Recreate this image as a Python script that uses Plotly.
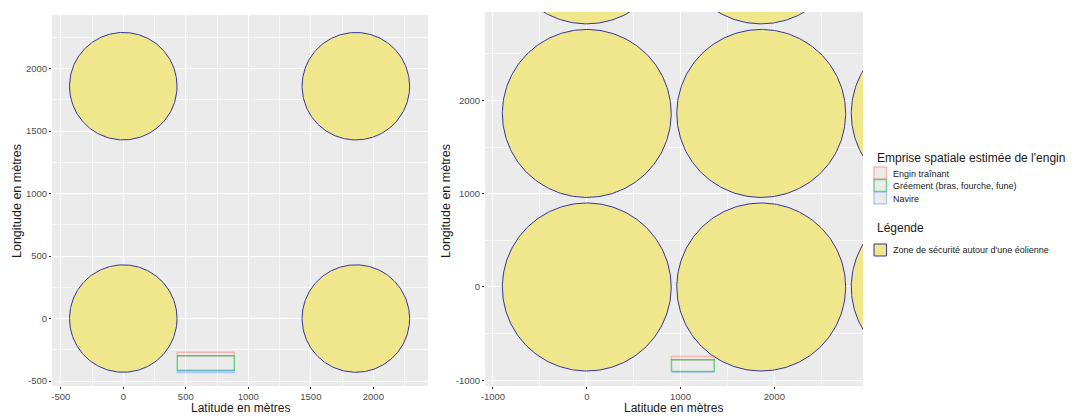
import numpy as np
import plotly.graph_objects as go

# ---------------- data ----------------
turbine_x = [0, 1860, 3720]
turbine_y = [0, 1860, 3720]
radius_left = 430
radius_right = 900

gear_names = ["Engin traînant", "Gréement (bras, fourche, fune)", "Navire"]
gear_colors = ["rgba(248,118,109,0.45)", "rgba(0,186,56,0.55)", "rgba(97,156,255,0.45)"]

# rectangles (x0, x1, y0, y1) per panel
left_x0 = [432, 432, 432]
left_x1 = [888, 888, 888]
left_y0 = [-298, -416, -432]
left_y1 = [-270, -298, -416]

right_x0 = [903, 903, 903]
right_x1 = [1359, 1359, 1359]
right_y0 = [-779, -905, -912]
right_y1 = [-744, -779, -905]

left_xticks = [-500, 0, 500, 1000, 1500, 2000]
left_yticks = [-500, 0, 500, 1000, 1500, 2000]
left_minor = [-250, 250, 750, 1250, 1750, 2250]
right_xticks = [-1000, 0, 1000, 2000]
right_yticks = [-1000, 0, 1000, 2000]
right_minor = [-500, 500, 1500, 2500]

zone_name = "Zone de sécurité autour d'une éolienne"
gear_title = "Emprise spatiale estimée de l'engin"
zone_title = "Légende"
x_title = "Latitude en mètres"
y_title = "Longitude en mètres"

FONT = "Liberation Sans"
W, H = 1080, 416

fig = go.Figure()


def circles(r):
    t = np.linspace(0, 2 * np.pi, 241)
    xs, ys = [], []
    for cx in turbine_x:
        for cy in turbine_y:
            xs += list(cx + r * np.cos(t)) + [None]
            ys += list(cy + r * np.sin(t)) + [None]
    return xs, ys


for r, xa, ya in [(radius_left, "x", "y"), (radius_right, "x2", "y2")]:
    cx, cy = circles(r)
    fig.add_trace(go.Scatter(
        x=cx, y=cy, mode="lines", fill="toself",
        fillcolor="#F0E68C", line=dict(color="#34349A", width=1),
        name=zone_name, showlegend=False,
        xaxis=xa, yaxis=ya, hoverinfo="skip"))

for X0, X1, Y0, Y1, xa, ya in [
        (left_x0, left_x1, left_y0, left_y1, "x", "y"),
        (right_x0, right_x1, right_y0, right_y1, "x2", "y2")]:
    for i in range(3):
        fig.add_trace(go.Scatter(
            x=[X0[i], X1[i], X1[i], X0[i], X0[i]],
            y=[Y0[i], Y0[i], Y1[i], Y1[i], Y0[i]],
            mode="lines", line=dict(color=gear_colors[i], width=1.5),
            name=gear_names[i], showlegend=False,
            xaxis=xa, yaxis=ya, hoverinfo="skip"))


def ax(domain, rng, ticks, minor, anchor):
    return dict(
        domain=domain, range=rng, anchor=anchor, automargin=False,
        tickvals=ticks, ticktext=[str(v) for v in ticks],
        showgrid=True, gridcolor="white", gridwidth=1.1,
        minor=dict(tickvals=minor, showgrid=True, gridcolor="rgba(255,255,255,0.6)",
                   gridwidth=0.5, ticks=""),
        zeroline=False, ticks="outside", ticklen=2, tickcolor="#333333", tickwidth=1,
        tickfont=dict(size=9.5, color="#4D4D4D", family=FONT),
        showline=False, fixedrange=True,
    )


def py(p):
    return 1 - p / H


def px(p):
    return p / W


fig.update_layout(
    width=W, height=H,
    margin=dict(l=0, r=0, t=0, b=0),
    paper_bgcolor="white", plot_bgcolor="#EBEBEB",
    font=dict(family=FONT, color="#1A1A1A"),
    showlegend=False,
    xaxis=ax([px(52), px(428)], [-570, 2437], left_xticks, left_minor, "y"),
    yaxis=ax([py(386), py(15)], [-540, 2430], left_yticks, left_minor, "x"),
    xaxis2=ax([px(485), px(863)], [-1085, 2945], right_xticks, right_minor, "y2"),
    yaxis2=ax([py(386), py(12)], [-1061, 2947], right_yticks, right_minor, "x2"),
)

annotations = []
# axis titles
for xc in [240, 673]:
    annotations.append(dict(text=x_title, x=px(xc), y=py(416), xref="paper", yref="paper",
                            showarrow=False, xanchor="center", yanchor="bottom", borderpad=0,
                            font=dict(size=12, color="#1A1A1A", family=FONT)))
for xc in [17, 446]:
    annotations.append(dict(text=y_title, x=px(xc), y=py(201), xref="paper", yref="paper",
                            showarrow=False, xanchor="center", yanchor="middle", textangle=-90,
                            font=dict(size=12.5, color="#1A1A1A", family=FONT)))

# manual legend
annotations.append(dict(text=gear_title, x=px(875), y=py(158), xref="paper", yref="paper",
                        showarrow=False, xanchor="left", yanchor="middle",
                        font=dict(size=12, color="#1A1A1A", family=FONT)))
annotations.append(dict(text=zone_title, x=px(875), y=py(228), xref="paper", yref="paper",
                        showarrow=False, xanchor="left", yanchor="middle",
                        font=dict(size=12, color="#1A1A1A", family=FONT)))
shapes = []
key_tops = [167, 179.5, 192]
for i, name in enumerate(gear_names):
    top = key_tops[i]
    shapes.append(dict(type="rect", xref="paper", yref="paper",
                       x0=px(874), x1=px(886.5), y0=py(top + 12), y1=py(top),
                       fillcolor="#EBEBEB", line=dict(color=gear_colors[i], width=1.5)))
    annotations.append(dict(text=name, x=px(891), y=py(top + 6.5), xref="paper", yref="paper",
                            showarrow=False, xanchor="left", yanchor="middle",
                            font=dict(size=9, color="#1A1A1A", family=FONT)))
shapes.append(dict(type="rect", xref="paper", yref="paper",
                   x0=px(874), x1=px(886.5), y0=py(256), y1=py(244),
                   fillcolor="#F0E68C", line=dict(color="#34349A", width=1)))
annotations.append(dict(text=zone_name, x=px(891), y=py(250), xref="paper", yref="paper",
                        showarrow=False, xanchor="left", yanchor="middle",
                        font=dict(size=9, color="#1A1A1A", family=FONT)))

fig.update_layout(annotations=annotations, shapes=shapes)

fig.write_html("out.html", config={"displayModeBar": False},
               post_script="document.body.style.margin='0';document.body.style.overflow='hidden';")
